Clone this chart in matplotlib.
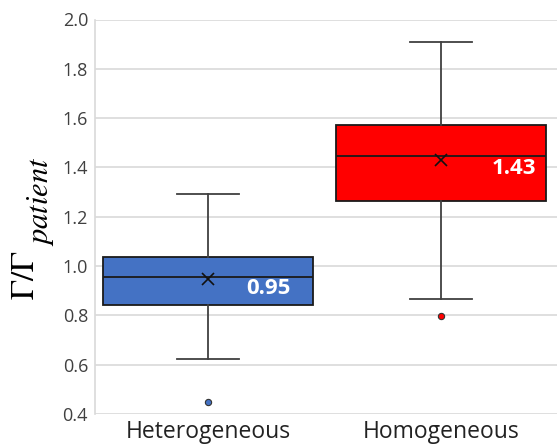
import matplotlib
matplotlib.use("Agg")
import matplotlib.pyplot as plt

categories = ["Heterogeneous", "Homogeneous"]
whisker_low = [0.623, 0.866]
q1 = [0.843, 1.262]
median = [0.954, 1.447]
q3 = [1.037, 1.572]
whisker_high = [1.293, 1.909]
mean = [0.948, 1.431]
outliers = [[0.449], [0.796]]
mean_labels = ["0.95", "1.43"]
yticks = [0.4, 0.6, 0.8, 1.0, 1.2, 1.4, 1.6, 1.8, 2.0]

colors = ["#4472C4", "#FF0000"]

plt.rcParams["mathtext.fontset"] = "stix"

W, H = 557, 446
fig = plt.figure(figsize=(W / 100, H / 100), dpi=100)
left, right, top, bottom = 95, 557, 19.5, 414
ax = fig.add_axes([left / W, 1 - bottom / H, (right - left) / W, (bottom - top) / H])

stats = []
for i in range(len(categories)):
    stats.append(dict(med=median[i], q1=q1[i], q3=q3[i], whislo=whisker_low[i],
                      whishi=whisker_high[i], mean=mean[i], fliers=outliers[i],
                      label=categories[i]))

positions = list(range(len(categories)))
bp = ax.bxp(stats, positions=positions, widths=0.905, patch_artist=True,
            showmeans=True, capwidths=0.27,
            boxprops=dict(edgecolor="#1a1a1a", linewidth=1.3),
            medianprops=dict(color="#1a1a1a", linewidth=1.3),
            whiskerprops=dict(color="#404040", linewidth=1.3),
            capprops=dict(color="#404040", linewidth=1.3),
            meanprops=dict(marker="x", markeredgecolor="#111111", markersize=9,
                           markeredgewidth=1.2),
            flierprops=dict(marker="o", markersize=4.5, markeredgecolor="#333333",
                            markeredgewidth=0.8))
for patch, c in zip(bp["boxes"], colors):
    patch.set_facecolor(c)
for fl, c in zip(bp["fliers"], colors):
    fl.set_markerfacecolor(c)

label_dx = [0.356, 0.408]
for i, txt in enumerate(mean_labels):
    ax.text(positions[i] + label_dx[i], mean[i] - 0.037, txt, ha="right", va="center",
            color="white", fontsize=16, fontweight="bold", family="Open Sans")

ax.set_xlim(-0.485, 1.498)
ax.set_ylim(0.4, 2.0)
ax.set_yticks(yticks)
ax.set_yticklabels([f"{v:.1f}" for v in yticks], family="Open Sans", fontsize=13, color="#404040")
ax.set_xticks(positions)
ax.set_xticklabels(categories, family="Open Sans", fontsize=16.5, color="#222222")
ax.tick_params(axis="y", length=0, pad=5)
ax.tick_params(axis="x", length=0, pad=4)
ax.yaxis.grid(True, color="#d9d9d9", linewidth=1.2)
ax.set_axisbelow(True)
for s in ["top", "right", "bottom"]:
    ax.spines[s].set_visible(False)
ax.spines["left"].set_color("#d9d9d9")
ax.spines["left"].set_linewidth(1.2)

# y-axis label: Γ/Γ with a large italic "patient" subscript
fig.text(24 / W, 1 - 300 / H, r"$\Gamma/\Gamma$", rotation=90, ha="center",
         va="bottom", fontsize=24)
fig.text(40 / W, 1 - 246 / H, r"$\mathit{patient}$", rotation=90, ha="center",
         va="bottom", fontsize=22)

fig.savefig("out.png", dpi=100)
